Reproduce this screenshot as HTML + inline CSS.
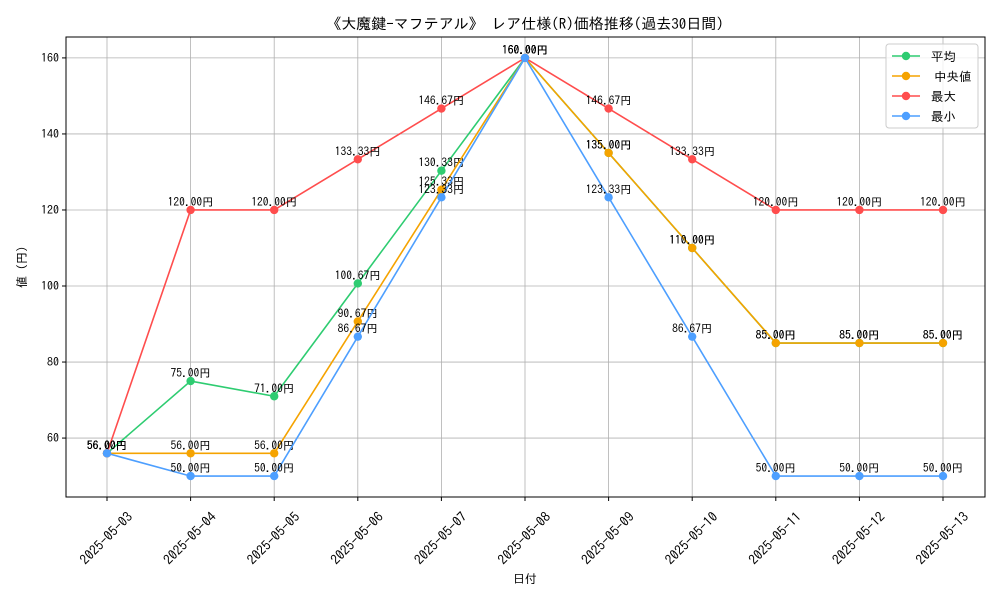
<!DOCTYPE html>
<html><head><meta charset="utf-8"><style>
body{margin:0;background:#fff}
text{font-family:"IPAGothic","Liberation Sans","Noto Sans CJK JP",sans-serif}
</style></head><body>
<svg id="c" width="1000" height="600" xmlns="http://www.w3.org/2000/svg">
<rect width="1000" height="600" fill="#fff"/>
<text x="525" y="29" text-anchor="middle" font-size="15">《大魔鍵-マフテアル》 レア仕様(R)価格推移(過去30日間)</text>
<g id="grid"></g><g id="axes"></g><g id="series"></g>
<rect x="66" y="37" width="919" height="460" fill="none" stroke="#000" stroke-width="1"/>
<text x="525" y="583" text-anchor="middle" font-size="12">日付</text>
<text x="0" y="0" transform="translate(26,267) rotate(-90)" text-anchor="middle" font-size="12">値 (円)</text>
<g id="legend"></g>
</svg>
<script>
const categories=["2025-05-03","2025-05-04","2025-05-05","2025-05-06","2025-05-07","2025-05-08","2025-05-09","2025-05-10","2025-05-11","2025-05-12","2025-05-13"];
const avgValues=[56,75,71,100.67,130.33,160,135,110,85,85,85];
const medianValues=[56,56,56,90.67,125.33,160,135,110,85,85,85];
const maxValues=[56,120,120,133.33,146.67,160,146.67,133.33,120,120,120];
const minValues=[56,50,50,86.67,123.33,160,123.33,86.67,50,50,50];
const yTicks=[60,80,100,120,140,160];
const seriesNames=["平均","中央値","最大","最小"];
const NS="http://www.w3.org/2000/svg";
const X0=66,X1=985,Y0=37,Y1=497;
const allV=avgValues.concat(medianValues,maxValues,minValues);
const vmin=Math.min(...allV),vmax=Math.max(...allV),pad=(vmax-vmin)*0.05;
const ylo=vmin-pad,yhi=vmax+pad;
const xs=i=>107+i*(943-107)/(categories.length-1);
const ys=v=>Y1-(v-ylo)/(yhi-ylo)*(Y1-Y0);
function mk(t,a,p){const e=document.createElementNS(NS,t);for(const k in a)e.setAttribute(k,a[k]);p.appendChild(e);return e;}
const grid=document.getElementById('grid'),axes=document.getElementById('axes'),ser=document.getElementById('series'),leg=document.getElementById('legend');
categories.forEach((c,i)=>{
 const x=xs(i);
 const g=mk('line',{x1:x,x2:x,y1:Y0,y2:Y1,stroke:'#b0b0b0','stroke-width':0.8},grid);
 
 
 const tk=mk('line',{x1:x,x2:x,y1:Y1,y2:Y1+4,stroke:'#000'},axes);
 
 
 const t=mk('text',{x:0,y:0,transform:`translate(${x-1},${Y1+41}) rotate(-45)`,'text-anchor':'middle','dominant-baseline':'central','font-size':13.5},axes);
 t.textContent=c;
 
 
});
yTicks.forEach(v=>{
 const y=ys(v);
 const g=mk('line',{x1:X0,x2:X1,y1:y,y2:y,stroke:'#b0b0b0','stroke-width':0.8},grid);
 
 
 const tk=mk('line',{x1:X0-4,x2:X0,y1:y,y2:y,stroke:'#000'},axes);
 
 
 const t=mk('text',{x:X0-7,y:y+4,'text-anchor':'end','font-size':12},axes);
 t.textContent=v;
 
 
});
const sets=[avgValues,medianValues,maxValues,minValues];
const colors=["#2ecc71","#f5a300","#ff4d4d","#4d9fff"];
const keys=["avg","median","max","min"];
sets.forEach((vals,s)=>{
 const g=mk('g',{},ser);
 
 
 const pl=mk('polyline',{points:vals.map((v,i)=>xs(i)+','+ys(v)).join(' '),fill:'none',stroke:colors[s],'stroke-width':1.6},g);
 
 
 vals.forEach((v,i)=>{
  const c=mk('circle',{cx:xs(i),cy:ys(v),r:4.2,fill:colors[s]},g);
  
  
  const t=mk('text',{x:xs(i),y:ys(v)-4,'text-anchor':'middle','font-size':11.5},g);
  t.textContent=v.toFixed(2)+'円';
  
  
 });
});
const lb=mk('rect',{x:886,y:44,width:92,height:84,rx:3,fill:'#fff','fill-opacity':0.8,stroke:'#ccc'},leg);


seriesNames.forEach((n,s)=>{
 const y=56+s*20;
 const g=mk('g',{},leg);
 
 
 mk('line',{x1:892,x2:920,y1:y,y2:y,stroke:colors[s],'stroke-width':1.6},g);
 mk('circle',{cx:906,cy:y,r:4.2,fill:colors[s]},g);
 const t=mk('text',{x:s==1?934:931,y:y+5,'font-size':12.5},g);
 t.textContent=n;
});
</script>
</body></html>
